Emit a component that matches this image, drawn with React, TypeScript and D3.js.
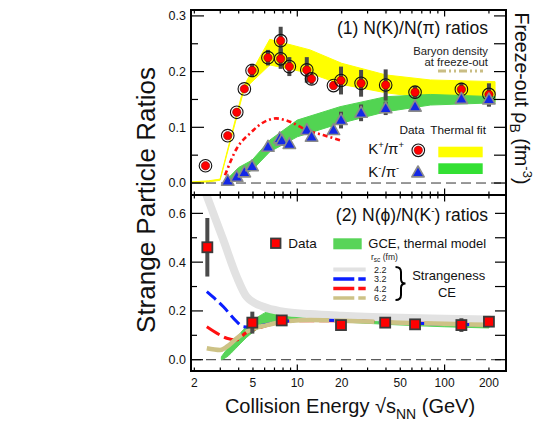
import React from 'react';
import * as d3 from 'd3';

const W = 545, H = 433;
const FONT = '"Liberation Sans", Arial, Helvetica, sans-serif';

// ---------- Panel (1): K/pi ----------
const kpE = [2.38, 3.37, 3.88, 4.37, 4.93, 6.32, 7.71, 7.71, 8.83, 11.6, 12.5, 17.6, 19.8, 27.1, 39.8, 63, 130, 200];
const kpV = [0.031, 0.085, 0.127, 0.169, 0.202, 0.225, 0.2555, 0.223, 0.209, 0.203, 0.187, 0.175, 0.184, 0.179, 0.176, 0.163, 0.168, 0.159];
const kpErr = [0, 0, 0.003, 0.004, 0.012, 0.014, 0.025, 0.018, 0.017, 0.023, 0.01, 0.007, 0.025, 0.024, 0.028, 0.011, 0.012, 0.02];

const kmE = [3.37, 3.88, 4.37, 4.93, 6.32, 7.6, 7.85, 8.83, 11.6, 12.5, 17.6, 19.8, 27.1, 39.8, 63, 130, 200];
const kmV = [0.004, 0.011, 0.019, 0.030, 0.065, 0.080, 0.076, 0.070, 0.095, 0.083, 0.095, 0.113, 0.126, 0.134, 0.137, 0.151, 0.150];
const kmErr = [0, 0, 0, 0, 0.004, 0.006, 0.006, 0.004, 0.006, 0.004, 0.004, 0.015, 0.015, 0.012, 0.009, 0.004, 0.013];

// thermal fit bands [E, low, high]
const yellowBand: [number, number, number][] = [
  [1.9, 0.001, 0.002], [2.5, 0.002, 0.004], [2.99, 0.005, 0.007], [4.35, 0.168, 0.175],
  [6.5, 0.212, 0.258], [12.2, 0.197, 0.239], [20, 0.177, 0.215], [40, 0.162, 0.194],
  [80, 0.152, 0.185], [220, 0.146, 0.182],
];
const greenBandTop: [number, number, number][] = [
  [3.28, 0.0, 0.004], [3.49, 0.004, 0.012], [4.0, 0.012, 0.028], [4.93, 0.023, 0.041],
  [6.5, 0.056, 0.077], [10, 0.083, 0.113], [19.5, 0.107, 0.137], [40, 0.128, 0.155],
  [80, 0.140, 0.159], [220, 0.144, 0.155],
];
// baryon density at freeze-out (fm^-3)
const rhoE = [3.23, 3.88, 4.77, 6.2, 7.17, 8.92, 11.6, 15.0, 20.0];
const rhoV = [0.014, 0.062, 0.089, 0.112, 0.116, 0.110, 0.095, 0.086, 0.076];

// ---------- Panel (2): phi/K- ----------
const phiE = [2.45, 4.95, 7.84, 19.8, 39.5, 63, 130, 200];
const phiV = [0.461, 0.152, 0.161, 0.142, 0.152, 0.145, 0.142, 0.156];
const phiErr = [0.12, 0.045, 0.013, 0.018, 0.01, 0.018, 0.028, 0.022];

const gceBand: [number, number, number][] = [
  [3.05, 0.0, 0.012], [3.3, 0.01, 0.04], [3.8, 0.045, 0.085], [4.5, 0.09, 0.135],
  [5.5, 0.13, 0.178], [6.5, 0.15, 0.2], [7.5, 0.158, 0.205], [10, 0.16, 0.2],
  [15, 0.158, 0.19], [20, 0.155, 0.183], [40, 0.145, 0.165], [100, 0.135, 0.15], [200, 0.13, 0.145],
];
const ceE22 = [2.4, 3.15, 3.88, 4.53, 5.88, 8.04, 12.2, 20, 50, 100, 200];
const ceV22 = [0.68, 0.49, 0.34, 0.258, 0.217, 0.197, 0.187, 0.18, 0.172, 0.168, 0.165];
const ceE32 = [2.43, 3.15, 3.88, 4.3, 4.77, 5.5, 6.5, 8, 12, 20, 40, 100, 200];
const ceV32 = [0.279, 0.217, 0.156, 0.135, 0.133, 0.138, 0.148, 0.156, 0.163, 0.161, 0.153, 0.146, 0.143];
const ceE42 = [2.43, 2.99, 3.32, 3.88, 4.42, 5.5, 7, 10, 20, 50, 100, 200];
const ceV42 = [0.135, 0.101, 0.088, 0.081, 0.108, 0.13, 0.148, 0.16, 0.16, 0.152, 0.147, 0.143];
const ceE62 = [2.43, 2.99, 3.32, 3.88, 4.77, 6.2, 8.04, 12.2, 20, 50, 100, 200];
const ceV62 = [0.047, 0.040, 0.053, 0.088, 0.122, 0.142, 0.156, 0.163, 0.16, 0.152, 0.147, 0.143];

const xTickVals = [2, 3, 4, 5, 6, 7, 8, 9, 10, 20, 30, 40, 50, 60, 70, 80, 90, 100, 200];
const xTickLabels = [2, 5, 10, 20, 50, 100, 200];
const yTopTicks = [0, 0.05, 0.1, 0.15, 0.2, 0.25, 0.3];
const yTopLabels = [0, 0.1, 0.2, 0.3];
const yBotTicks = [0, 0.1, 0.2, 0.3, 0.4, 0.5, 0.6];
const yBotLabels = [0, 0.2, 0.4, 0.6];
const rscLabels = ['2.2', '3.2', '4.2', '6.2'];

const L = 191, R = 506, T1 = 10, B1 = 195, T2 = 195, B2 = 371;

export default function App() {
  const x = d3.scaleLog().domain([1.898, 261.1]).range([L, R]);
  const yT = d3.scaleLinear().domain([-0.0215, 0.3106]).range([B1, T1]);
  const yRho = d3.scaleLinear().domain([-0.0215, 0.3106]).range([B1, T1]);
  const yB = d3.scaleLinear().domain([-0.0463, 0.6753]).range([B2, T2]);

  const areaT = d3.area<[number, number, number]>().x(d => x(d[0])).y0(d => yT(d[1])).y1(d => yT(d[2]));
  const areaB = d3.area<[number, number, number]>().x(d => x(d[0])).y0(d => yB(d[1])).y1(d => yB(d[2])).curve(d3.curveMonotoneX);
  const lineRho = d3.line<number>().x((_, i) => x(rhoE[i])).y(d => yRho(d)).curve(d3.curveMonotoneX);
  const mkLine = (es: number[]) => d3.line<number>().x((_, i) => x(es[i])).y(d => yB(d)).curve(d3.curveMonotoneX);

  const triPath = (cx: number, cy: number, s = 6.5) =>
    `M${cx},${cy - s}L${cx + s * 0.95},${cy + s * 0.68}L${cx - s * 0.95},${cy + s * 0.68}Z`;

  const isMajor = (v: number) => v === 10 || v === 100;
  const fmt = d3.format('.1f');

  const xTicks = (y0: number, dir: number) =>
    xTickVals.map(v => (
      <line key={`${y0}-${v}`} x1={x(v)} x2={x(v)} y1={y0} y2={y0 + dir * (isMajor(v) ? 6.5 : 3.5)} stroke="#000" strokeWidth={1.2} />
    ));

  return (
    <svg width={W} height={H} style={{ display: 'block', position: 'absolute', left: 0, top: 0 }} fontFamily={FONT}>
      <defs>
        <clipPath id="clipT"><rect x={L} y={T1} width={R - L} height={B1 - T1} /></clipPath>
        <clipPath id="clipB"><rect x={L} y={T2} width={R - L} height={B2 - T2} /></clipPath>
      </defs>
      <rect x={0} y={0} width={W} height={H} fill="#fff" />

      {/* ---------- top panel content ---------- */}
      <g clipPath="url(#clipT)">
        <path d={areaT(yellowBand) || ''} fill="#ffff00" stroke="#ffff00" strokeWidth={1} />
        <path d={areaT(greenBandTop) || ''} fill="#52d452" stroke="#52d452" strokeWidth={1} />
        <line x1={L} x2={R} y1={yT(0)} y2={yT(0)} stroke="#333" strokeWidth={1} strokeDasharray="10,5" />
        <path d={lineRho(rhoV) || ''} fill="none" stroke="#ff1010" strokeWidth={2.6} strokeDasharray="5,3,2,3" />
        {kpE.map((e, i) => kpErr[i] > 0 ? (
          <line key={`kpe${i}`} x1={x(e)} x2={x(e)} y1={yT(kpV[i] - kpErr[i])} y2={yT(kpV[i] + kpErr[i])} stroke="#4a4a4a" strokeWidth={4} />
        ) : null)}
        {kmE.map((e, i) => kmErr[i] > 0 ? (
          <line key={`kme${i}`} x1={x(e)} x2={x(e)} y1={yT(kmV[i] - kmErr[i])} y2={yT(kmV[i] + kmErr[i])} stroke="#4a4a4a" strokeWidth={4} />
        ) : null)}
        {kpE.map((e, i) => (
          <g key={`kp${i}`}>
            <circle cx={x(e)} cy={yT(kpV[i])} r={6.3} fill="none" stroke="#111" strokeWidth={1.1} />
            <circle cx={x(e)} cy={yT(kpV[i])} r={4.2} fill="#ff0000" stroke="#600" strokeWidth={0.5} />
          </g>
        ))}
        {kmE.map((e, i) => (
          <path key={`km${i}`} d={triPath(x(e), yT(kmV[i]))} fill="#1428e6" stroke="#8a8a8a" strokeWidth={1.6} strokeLinejoin="round" />
        ))}
      </g>

      {/* ---------- bottom panel content ---------- */}
      <g clipPath="url(#clipB)">
        <line x1={L} x2={R} y1={yB(0)} y2={yB(0)} stroke="#333" strokeWidth={1} strokeDasharray="10,5" />
        <path d={areaB(gceBand) || ''} fill="#58d458" stroke="#58d458" strokeWidth={1} />
        <path d={mkLine(ceE22)(ceV22) || ''} fill="none" stroke="#e2e2e2" strokeWidth={8} strokeLinecap="round" />
        <path d={mkLine(ceE42)(ceV42) || ''} fill="none" stroke="#ff1010" strokeWidth={3} strokeDasharray="15,5" />
        <path d={mkLine(ceE32)(ceV32) || ''} fill="none" stroke="#0a1eff" strokeWidth={3} strokeDasharray="12,5" />
        <path d={mkLine(ceE62)(ceV62) || ''} fill="none" stroke="#cdc286" strokeWidth={4.5} strokeDasharray="40,5" />
        {phiE.map((e, i) => (
          <line key={`pe${i}`} x1={x(e)} x2={x(e)} y1={yB(phiV[i] - phiErr[i])} y2={yB(phiV[i] + phiErr[i])} stroke="#4a4a4a" strokeWidth={4} />
        ))}
        {phiE.map((e, i) => (
          <rect key={`p${i}`} x={x(e) - 5} y={yB(phiV[i]) - 5} width={10} height={10} fill="#ff0000" stroke="#3a3a3a" strokeWidth={1.8} />
        ))}
      </g>

      {/* ---------- axes ---------- */}
      {xTicks(T1, 1)}
      {xTicks(B1, -1)}
      {xTicks(T2, 1)}
      {xTicks(B2, -1)}
      {yTopTicks.map(v => {
        const major = yTopLabels.some(l => Math.abs(l - v) < 1e-9);
        return (
          <g key={`yt${v}`}>
            <line x1={L} x2={L + (major ? 13 : 7)} y1={yT(v)} y2={yT(v)} stroke="#000" strokeWidth={1.2} />
            <line x1={R} x2={R - 12} y1={yT(v)} y2={yT(v)} stroke="#000" strokeWidth={1.2} />
          </g>
        );
      })}
      {yBotTicks.map(v => {
        const major = yBotLabels.some(l => Math.abs(l - v) < 1e-9);
        return (
          <g key={`yb${v}`}>
            <line x1={L} x2={L + (major ? 12 : 6)} y1={yB(v)} y2={yB(v)} stroke="#000" strokeWidth={1.2} />
            <line x1={R} x2={R - 11} y1={yB(v)} y2={yB(v)} stroke="#000" strokeWidth={1.2} />
          </g>
        );
      })}
      {yTopLabels.map(v => (
        <text key={`ytl${v}`} x={186} y={yT(v) + 4.4} textAnchor="end" fontSize={12.5} fill="#111">{fmt(v)}</text>
      ))}
      {yBotLabels.map(v => (
        <text key={`ybl${v}`} x={186} y={yB(v) + 4.4} textAnchor="end" fontSize={12.5} fill="#111">{fmt(v)}</text>
      ))}
      {xTickLabels.map(v => (
        <text key={`xl${v}`} x={x(v)} y={386.7} textAnchor="middle" fontSize={12} fill="#111">{v}</text>
      ))}

      <rect x={L} y={T1} width={R - L} height={B1 - T1} fill="none" stroke="#000" strokeWidth={2} />
      <rect x={L} y={T2} width={R - L} height={B2 - T2} fill="none" stroke="#000" strokeWidth={2} />

      {/* ---------- titles & legends, top ---------- */}
      <text x={488} y={34.3} textAnchor="end" fontSize={17.5} fill="#111">(1) N(K)/N(π) ratios</text>
      <text x={488} y={55} textAnchor="end" fontSize={11.3} fill="#222">Baryon density</text>
      <text x={488} y={66} textAnchor="end" fontSize={11.3} fill="#222">at freeze-out</text>
      <line x1={438} x2={483} y1={71} y2={71} stroke="#c9bd84" strokeWidth={3} strokeDasharray="8,3,2,3,2,3" />
      <text x={412} y={134.3} textAnchor="middle" fontSize={11.8} fill="#111">Data</text>
      <text x={486} y={134.3} textAnchor="end" fontSize={11.8} fill="#111">Thermal fit</text>
      <text x={368.3} y={154} fontSize={15} fill="#111">K<tspan dy={-6} fontSize={9.5}>+</tspan><tspan dy={6}>/π</tspan><tspan dy={-6} fontSize={9.5}>+</tspan></text>
      <text x={368.3} y={176.7} fontSize={15} fill="#111">K<tspan dy={-6} fontSize={9.5}>-</tspan><tspan dy={6}>/π</tspan><tspan dy={-6} fontSize={9.5}>-</tspan></text>
      <circle cx={418.3} cy={150.3} r={6.3} fill="none" stroke="#111" strokeWidth={1.1} />
      <circle cx={418.3} cy={150.3} r={4.2} fill="#ff0000" stroke="#600" strokeWidth={0.5} />
      <path d={triPath(418, 172.5)} fill="#1428e6" stroke="#8a8a8a" strokeWidth={1.6} strokeLinejoin="round" />
      <rect x={438.3} y={146.7} width={44.4} height={10.6} fill="#ffff00" />
      <rect x={438.3} y={163.3} width={44.4} height={10.7} fill="#33e033" />

      {/* ---------- titles & legends, bottom ---------- */}
      <text x={488} y={220.7} textAnchor="end" fontSize={17.5} fill="#111">(2) N(ϕ)/N(K<tspan dy={-7} fontSize={10}>-</tspan><tspan dy={7}>) ratios</tspan></text>
      <rect x={271} y={238.5} width={9.5} height={9.5} fill="#ff0000" stroke="#3a3a3a" strokeWidth={1.8} />
      <text x={288.3} y={248.3} fontSize={13.5} fill="#111">Data</text>
      <rect x={333.3} y={238.3} width={28.4} height={11} fill="#58d458" />
      <text x={368.3} y={247.8} fontSize={13} fill="#111">GCE, thermal model</text>
      <text x={371} y={259.5} fontSize={8.5} fill="#222">r<tspan dy={2} fontSize={6.5}>sc</tspan><tspan dy={-2}> (fm)</tspan></text>
      <line x1={333.3} x2={365.7} y1={269.5} y2={269.5} stroke="#e2e2e2" strokeWidth={4} />
      <line x1={333.3} x2={365.7} y1={279} y2={279} stroke="#0a1eff" strokeWidth={3.5} strokeDasharray="21,4" />
      <line x1={333.3} x2={365.7} y1={288.5} y2={288.5} stroke="#ff1010" strokeWidth={3.5} strokeDasharray="21,4" />
      <line x1={333.3} x2={365.7} y1={298} y2={298} stroke="#cdc286" strokeWidth={3.5} strokeDasharray="21,4" />
      {rscLabels.map((s, i) => (
        <text key={`rsc${s}`} x={374} y={272.5 + i * 9.5} fontSize={9} fill="#222">{s}</text>
      ))}
      <path d="M395.5,267 Q401,267 401,272 L401,279 Q401,283.5 405.5,283.5 Q401,283.5 401,288 L401,295 Q401,300 395.5,300" fill="none" stroke="#000" strokeWidth={2} />
      <text x={448.7} y={280} textAnchor="middle" fontSize={13} fill="#111">Strangeness</text>
      <text x={447} y={297.3} textAnchor="middle" fontSize={13} fill="#111">CE</text>

      {/* ---------- axis titles ---------- */}
      <text transform="translate(155,200) rotate(-90)" textAnchor="middle" fontSize={26} fill="#111">Strange Particle Ratios</text>
      <text x={350} y={412.7} textAnchor="middle" fontSize={20} fill="#111">Collision Energy √s<tspan dy={6} fontSize={14}>NN</tspan><tspan dy={-6}> (GeV)</tspan></text>
      <text transform="translate(515,98.5) rotate(90)" textAnchor="middle" fontSize={19.5} fill="#111">Freeze-out ρ<tspan dy={5} fontSize={14}>B</tspan><tspan dy={-5}> (fm</tspan><tspan dy={-8} fontSize={13}>-3</tspan><tspan dy={8}>)</tspan></text>
    </svg>
  );
}
